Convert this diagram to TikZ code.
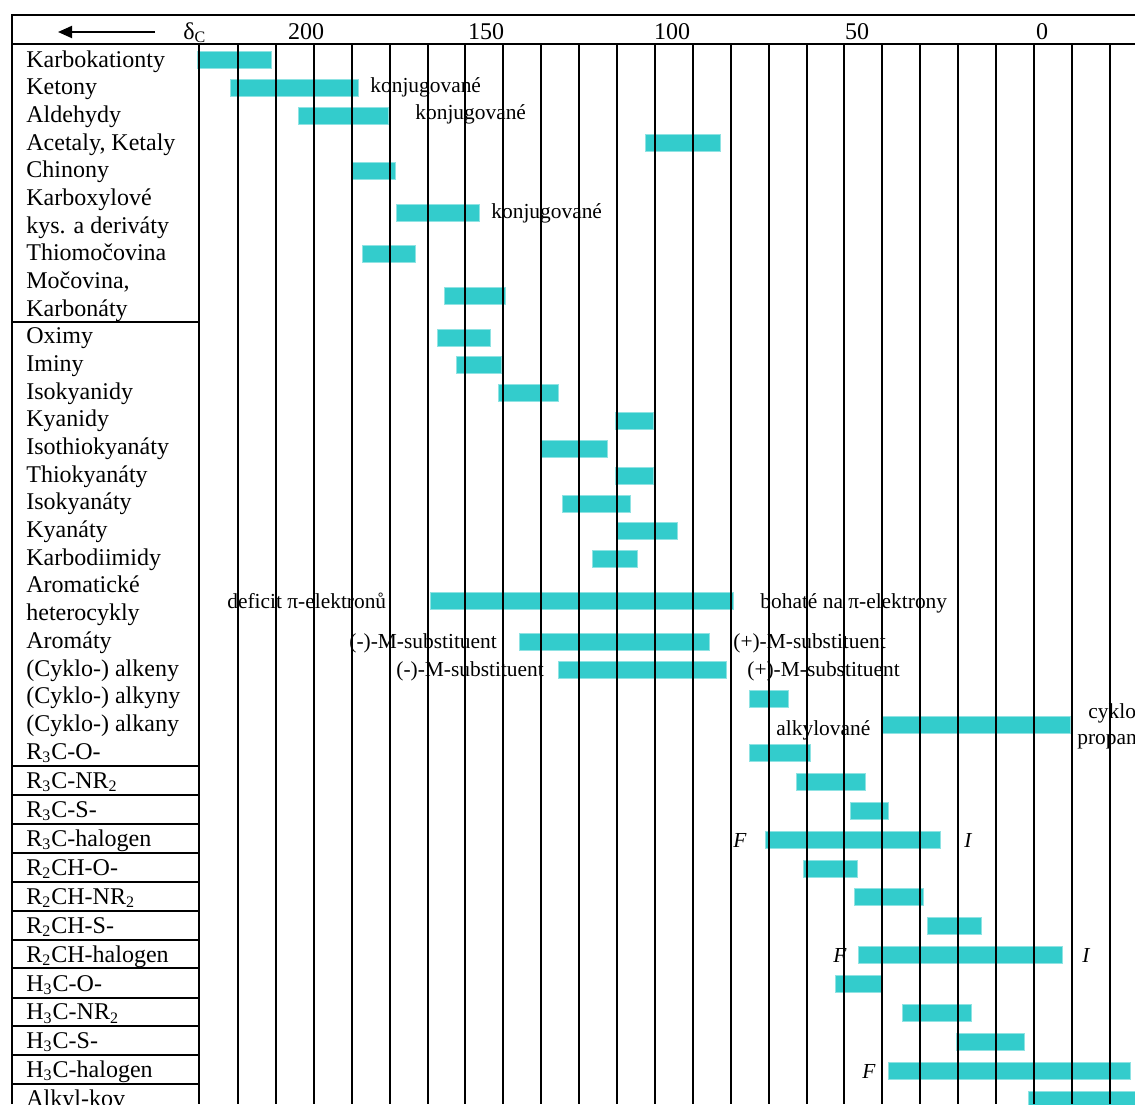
\documentclass[tikz,border=0pt]{standalone}
\usepackage{fontspec}
\setmainfont{Liberation Serif}
\usetikzlibrary{arrows.meta}
\definecolor{barcyan}{HTML}{33CCCC}

\begin{document}
\begin{tikzpicture}[x=0.5pt, y=-0.5pt,
    bar/.style={fill=barcyan, draw=barcyan!55!white, line width=0.5pt},
    grid/.style={line width=1pt},
    rowlabel/.style={anchor=base west, inner sep=0pt, font=\fontsize{12pt}{14pt}\selectfont},
    note/.style={anchor=base west, inner sep=0pt, font=\fontsize{10.7pt}{13pt}\selectfont}]
    \useasboundingbox (0,0) rectangle (1135,1104);
    \clip (0,0) rectangle (1135,1104);

    % Header: direction arrow and scale
    \coordinate (arrowtail) at (155,32);
    \coordinate (arrowtip) at (58,32);
    \draw[line width=1pt, -{Triangle[length=7pt, width=6pt]}] (arrowtail) -- (arrowtip);
    \node[rowlabel] (delta) at (183,39) {δ\textsubscript{C}};
    \node[rowlabel, anchor=base] (s200) at (306,39) {200};
    \node[rowlabel, anchor=base] (s150) at (486,39) {150};
    \node[rowlabel, anchor=base] (s100) at (672,39) {100};
    \node[rowlabel, anchor=base] (s50) at (857,39) {50};
    \node[rowlabel, anchor=base] (s0) at (1042,39) {0};

    % Ranges
    \draw[bar] (197,51.5) rectangle (271,68.5);
    \draw[bar] (230,79.5) rectangle (358,96.5);
    \draw[bar] (298,107) rectangle (388,124);
    \draw[bar] (645,134.5) rectangle (720,151.5);
    \draw[bar] (351,162) rectangle (395,179);
    \draw[bar] (396,204.5) rectangle (479,221.5);
    \draw[bar] (362,245) rectangle (415,262);
    \draw[bar] (444,287) rectangle (505,304);
    \draw[bar] (437,329) rectangle (490,346);
    \draw[bar] (456,356.5) rectangle (501,373.5);
    \draw[bar] (498,384) rectangle (558,401);
    \draw[bar] (615,412) rectangle (653,429);
    \draw[bar] (540,440) rectangle (607,457);
    \draw[bar] (615,467.5) rectangle (653,484.5);
    \draw[bar] (562,495) rectangle (630,512);
    \draw[bar] (616,522.5) rectangle (677,539.5);
    \draw[bar] (592,550) rectangle (637,567);
    \draw[bar] (430,592) rectangle (733,609);
    \draw[bar] (519,633) rectangle (709,650);
    \draw[bar] (558,661) rectangle (726,678);
    \draw[bar] (749,690) rectangle (788,707);
    \draw[bar] (881,716) rectangle (1070,733);
    \draw[bar] (749,744) rectangle (810,761);
    \draw[bar] (796,773) rectangle (865,790);
    \draw[bar] (850,802) rectangle (888,819);
    \draw[bar] (765,831) rectangle (940,848);
    \draw[bar] (803,860) rectangle (857,877);
    \draw[bar] (854,888) rectangle (923,905);
    \draw[bar] (927,917) rectangle (981,934);
    \draw[bar] (858,946) rectangle (1062,963);
    \draw[bar] (835,975) rectangle (881,992);
    \draw[bar] (902,1004) rectangle (971,1021);
    \draw[bar] (956,1033) rectangle (1024,1050);
    \draw[bar] (888,1062) rectangle (1130,1079);
    \draw[bar] (1028,1091) rectangle (1140,1110);

    % Notes beside the ranges
    \node[note] (konjket) at (370,92) {konjugované};
    \node[note] (konjald) at (415,119) {konjugované};
    \node[note] (konjkys) at (491,218) {konjugované};
    \node[note] (deficit) at (227,608) {deficit π-elektronů};
    \node[note] (bohate) at (760,608) {bohaté na π-elektrony};
    \node[note] (minusaro) at (349,648) {(-)-M-substituent};
    \node[note] (plusaro) at (733,648) {(+)-M-substituent};
    \node[note] (minusalk) at (396,676) {(-)-M-substituent};
    \node[note] (plusalk) at (747,676) {(+)-M-substituent};
    \node[note] (alkylovane) at (776,735) {alkylované};
    \node[note] (cyklo) at (1088,718) {cyklo};
    \node[note] (propan) at (1077,744) {propan};
    \node[note, font=\fontsize{10.7pt}{13pt}\selectfont\itshape] (f3) at (733,847) {F};
    \node[note, font=\fontsize{10.7pt}{13pt}\selectfont\itshape] (i3) at (964,847) {I};
    \node[note, font=\fontsize{10.7pt}{13pt}\selectfont\itshape] (f2) at (833,962) {F};
    \node[note, font=\fontsize{10.7pt}{13pt}\selectfont\itshape] (i2) at (1082,962) {I};
    \node[note, font=\fontsize{10.7pt}{13pt}\selectfont\itshape] (f1) at (862,1078) {F};

    % Row labels
    \node[rowlabel] (karbokat) at (26,67) {Karbokationty};
    \node[rowlabel] (ketony) at (26,94.7) {Ketony};
    \node[rowlabel] (aldehydy) at (26,122.4) {Aldehydy};
    \node[rowlabel] (acetaly) at (26,150) {Acetaly, Ketaly};
    \node[rowlabel] (chinony) at (26,177.7) {Chinony};
    \node[rowlabel] (karboxyl) at (26,205.4) {Karboxylové};
    \node[rowlabel] (kyseliny) at (26,233.1) {kys. a deriváty};
    \node[rowlabel] (thiomoc) at (26,260.8) {Thiomočovina};
    \node[rowlabel] (mocovina) at (26,288.4) {Močovina,};
    \node[rowlabel] (karbonaty) at (26,316.1) {Karbonáty};
    \node[rowlabel] (oximy) at (26,343.8) {Oximy};
    \node[rowlabel] (iminy) at (26,371.5) {Iminy};
    \node[rowlabel] (isokyanidy) at (26,399.2) {Isokyanidy};
    \node[rowlabel] (kyanidy) at (26,426.8) {Kyanidy};
    \node[rowlabel] (isothio) at (26,454.5) {Isothiokyanáty};
    \node[rowlabel] (thiokyan) at (26,482.2) {Thiokyanáty};
    \node[rowlabel] (isokyanaty) at (26,509.9) {Isokyanáty};
    \node[rowlabel] (kyanaty) at (26,537.6) {Kyanáty};
    \node[rowlabel] (karbodi) at (26,565.2) {Karbodiimidy};
    \node[rowlabel] (aromaticke) at (26,592.9) {Aromatické};
    \node[rowlabel] (heterocykly) at (26,620.6) {heterocykly};
    \node[rowlabel] (aromaty) at (26,648.3) {Aromáty};
    \node[rowlabel] (alkeny) at (26,676) {(Cyklo-) alkeny};
    \node[rowlabel] (alkyny) at (26,703.6) {(Cyklo-) alkyny};
    \node[rowlabel] (alkany) at (26,731.3) {(Cyklo-) alkany};
    \node[rowlabel] (rco) at (26,759) {R\textsubscript{3}C-O-};
    \node[rowlabel] (rcn) at (26,788) {R\textsubscript{3}C-NR\textsubscript{2}};
    \node[rowlabel] (rcs) at (26,817) {R\textsubscript{3}C-S-};
    \node[rowlabel] (rchal) at (26,846) {R\textsubscript{3}C-halogen};
    \node[rowlabel] (rhco) at (26,875) {R\textsubscript{2}CH-O-};
    \node[rowlabel] (rhcn) at (26,904) {R\textsubscript{2}CH-NR\textsubscript{2}};
    \node[rowlabel] (rhcs) at (26,933) {R\textsubscript{2}CH-S-};
    \node[rowlabel] (rhchal) at (26,962) {R\textsubscript{2}CH-halogen};
    \node[rowlabel] (hco) at (26,991) {H\textsubscript{3}C-O-};
    \node[rowlabel] (hcn) at (26,1019.5) {H\textsubscript{3}C-NR\textsubscript{2}};
    \node[rowlabel] (hcs) at (26,1048) {H\textsubscript{3}C-S-};
    \node[rowlabel] (hchal) at (26,1077) {H\textsubscript{3}C-halogen};
    \node[rowlabel] (alkylkov) at (26,1106) {Alkyl-kov};

    % Frame and grid
    \draw[line width=1.4pt] (12,1104) -- (12,15) -- (1135,15);
    \draw[grid] (12,44) -- (1135,44);
    \draw[grid] (199,44) -- (199,1104);
    \foreach \k in {0,...,23}
      \draw[grid] ({238+37.9*\k},44) -- ({238+37.9*\k},1104);
    \foreach \ys in {322,766,795,824,853,882,911,940,968,998,1026,1055,1084}
      \draw[grid] (12,\ys) -- (199,\ys);
\end{tikzpicture}
\end{document}
